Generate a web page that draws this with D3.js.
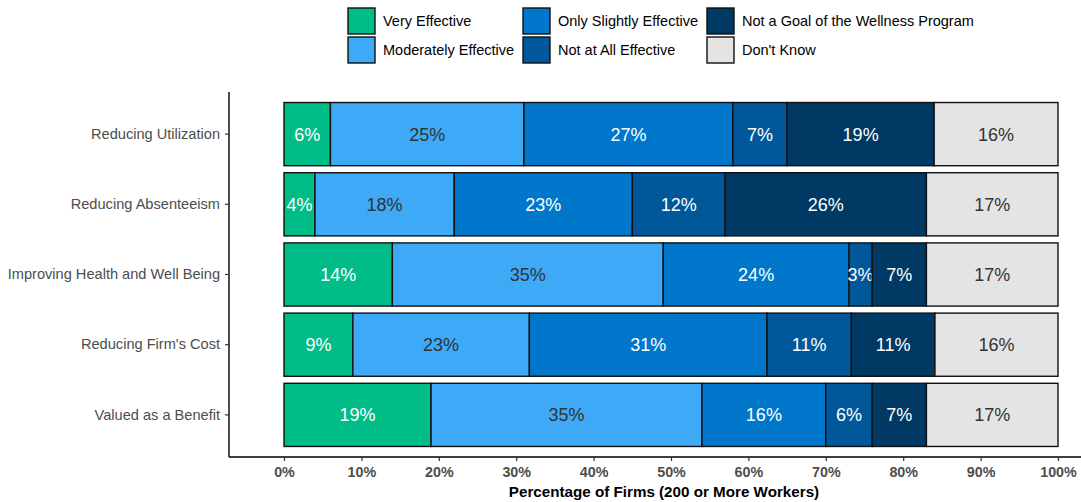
<!DOCTYPE html>
<html><head><meta charset="utf-8">
<script src="https://cdn.jsdelivr.net/npm/d3@7"></script>
<style>body{margin:0;background:#fff;font-family:"Liberation Sans",Arial,sans-serif}</style>
</head><body><svg id="c" width="1081" height="502"></svg>
<script>
const categories = ["Reducing Utilization","Reducing Absenteeism","Improving Health and Well Being","Reducing Firm's Cost","Valued as a Benefit"];
const seriesNames = ["Very Effective","Moderately Effective","Only Slightly Effective","Not at All Effective","Not a Goal of the Wellness Program","Don't Know"];
const veryEffective     = [6, 4, 14, 8.9, 19];
const moderately        = [25, 18, 35, 22.8, 35];
const onlySlightly      = [27, 23, 24, 30.7, 16];
const notAtAll          = [7, 12, 3, 10.9, 6];
const notAGoal          = [19, 26, 7, 10.8, 7];
const dontKnow          = [16, 17, 17, 15.9, 17];
const xTicks = [0,10,20,30,40,50,60,70,80,90,100];
const colors = ["#00BD88","#3DA9F7","#0077CA","#00589A","#003A64","#E4E4E4"];
const textColors = ["#fff","#333","#fff","#fff","#fff","#333"];

const series = [veryEffective, moderately, onlySlightly, notAtAll, notAGoal, dontKnow];
const svg = d3.select("#c");
const x = d3.scaleLinear().domain([0,100]).range([284,1058]);
const y = d3.scaleBand().domain(categories).range([92,457]).paddingOuter(0.15).paddingInner(0.1);

// bars
categories.forEach((cat,i)=>{
  let cum = 0;
  series.forEach((s,j)=>{
    const v = s[i];
    const g = svg.append("g");
    g.append("rect").attr("x",x(cum)).attr("y",y(cat)).attr("width",x(cum+v)-x(cum)).attr("height",y.bandwidth())
      .attr("fill",colors[j]).attr("stroke","#111").attr("stroke-width",1.4);
    g.append("text").attr("x",(x(cum)+x(cum+v))/2).attr("y",y(cat)+y.bandwidth()/2).attr("dy","0.36em")
      .attr("text-anchor","middle").attr("fill",textColors[j]).attr("font-size",18)
      .text(Math.round(v)+"%");
    cum += v;
  });
});

// axes
const yAxis = svg.append("g").attr("transform","translate(229,0)")
  .call(d3.axisLeft(y).tickSize(4).tickPadding(5));
yAxis.select(".domain").attr("stroke","#000").attr("stroke-width",1.4).attr("d","M0,92V457");
yAxis.selectAll(".tick line").attr("stroke","#333").attr("stroke-width",1.2);
yAxis.selectAll(".tick text").attr("fill","#4D4D4D").attr("font-size",14.6).attr("font-family","Liberation Sans, Arial, sans-serif");

const xAxis = svg.append("g").attr("transform","translate(0,457)")
  .call(d3.axisBottom(x).tickValues(xTicks).tickFormat(d=>d+"%").tickSize(4).tickPadding(6));
xAxis.select(".domain").attr("stroke","#000").attr("stroke-width",1.4).attr("d","M229,0H1081");
xAxis.selectAll(".tick line").attr("stroke","#333").attr("stroke-width",1.2);
xAxis.selectAll(".tick text").attr("fill","#4D4D4D").attr("font-size",14.3).attr("font-weight","bold").attr("font-family","Liberation Sans, Arial, sans-serif");

svg.append("text").attr("x",664).attr("y",497).attr("text-anchor","middle").attr("font-size",15.2)
  .attr("font-weight","bold").attr("fill","#000").text("Percentage of Firms (200 or More Workers)");

// legend
const legCols = [348, 523, 707];
const legRows = [8, 37];
seriesNames.forEach((n,j)=>{
  const col = Math.floor(j/2), row = j%2;
  const g = svg.append("g").attr("transform",`translate(${legCols[col]},${legRows[row]})`);
  g.append("rect").attr("x",0).attr("y",0).attr("width",27).attr("height",26).attr("fill",colors[j]).attr("stroke","#111").attr("stroke-width",1.4);
  g.append("text").attr("x",35).attr("y",13).attr("dy","0.35em").attr("font-size",14.5).attr("fill","#000").text(n);
});
</script></body></html>
